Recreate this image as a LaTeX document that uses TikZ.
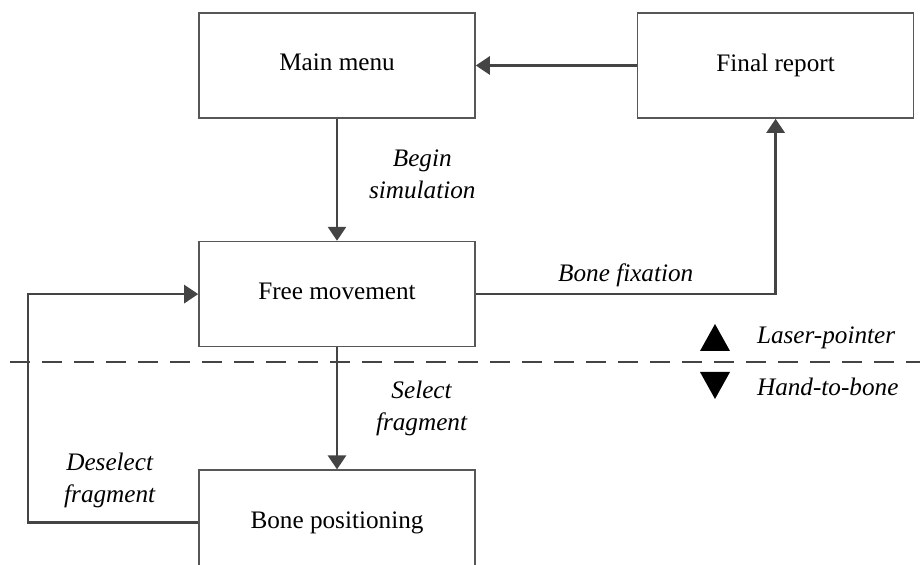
\documentclass[tikz,border=0pt]{standalone}
\usepackage{fontspec}
\setmainfont{Liberation Serif}
\usepackage{tikz}
\usetikzlibrary{positioning, arrows.meta}
\definecolor{linegray}{HTML}{444444}
\tikzset{
	x=0.5pt, y=-0.5pt, % one unit is one pixel of the reference
	>={Triangle[width=9pt, length=7pt]}, % filled arrow heads
	node distance=61pt and 80.5pt, % gap between the boxes
	every node/.style={font=\fontsize{12.6}{16}\selectfont}, % text size
	box/.style={draw=linegray!90, line width=0.8pt, minimum width=138pt, minimum height=52.5pt, text depth=3pt}, % the states
	flow/.style={->, draw=linegray, line width=1.4pt}, % the transitions
	note/.style={font=\fontsize{12.6}{16}\selectfont\itshape, align=center}, % the labels
}
\begin{document}
\begin{tikzpicture}
	\useasboundingbox (0,0) rectangle (920,565);
			\node[box] (menu) at (337,65.5) {Main menu};
			\node[box, right=of menu] (report) {Final report};
			\node[box, below=of menu] (free) {Free movement};
			\node[box, below=of free] (bone) {Bone positioning};
			\coordinate (turn) at (28,400);
	\draw[flow] (report) -- (menu);
	\draw[flow] (menu) -- node[note, right=12pt, yshift=2.5pt]{Begin\\simulation} (free);
	\draw[flow] (free) -| node[note, pos=0.25, above=-0.5pt]{Bone fixation} (report);
	\draw[flow] (free) -- node[note, right=15.5pt]{Select\\fragment} (bone);
	\draw[flow] (bone.west) -| node[note, pos=0.26, above=3.5pt]{Deselect\\fragment} (turn) |- (free.west);
	% legend
	\draw[linegray, line width=0.7pt, dash pattern=on 10pt off 6pt] (10,362) -- (920,362);
	\fill (700,351) -- (730,351) -- (715,324) -- cycle;
	\fill (700,372) -- (730,372) -- (715,399) -- cycle;
	\node[note, right] (laser) at (750,338) {Laser-pointer};
	\node[note, right] (hand) at (750,387) {Hand-to-bone};
	\end{tikzpicture}
\end{document}
